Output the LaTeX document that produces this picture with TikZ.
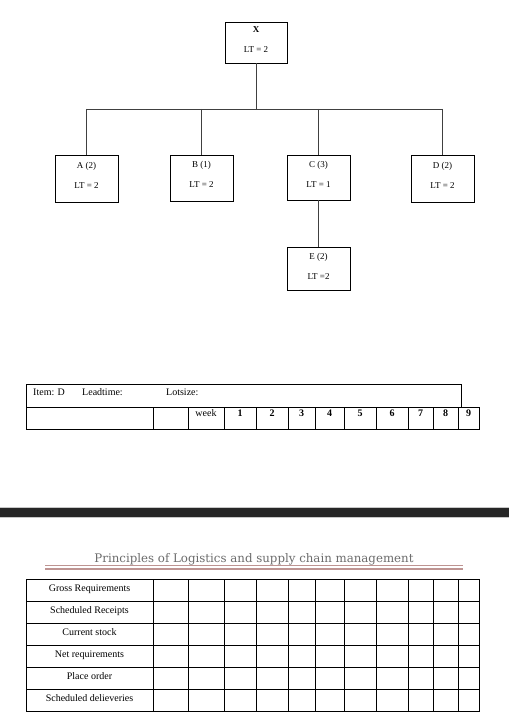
\documentclass[tikz,border=0pt]{standalone}
\usepackage{fontspec}
\setmainfont{Liberation Serif}
\newfontfamily\headfont{DejaVu Serif}
\usetikzlibrary{positioning}
\definecolor{rulered}{RGB}{190,148,146}
\definecolor{titlegray}{RGB}{108,108,108}
\definecolor{bandblack}{RGB}{38,38,38}
\newcommand{\padlow}[1]{\rule[-#1]{0pt}{#1}}

\begin{document}
\begin{tikzpicture}[x=1pt,y=1pt,
  part/.style={draw,line width=0.9pt,minimum width=63pt,minimum height=47pt,
    align=center,inner sep=0pt,font=\fontsize{9}{11}\selectfont},
  link/.style={draw=black!75,line width=0.8pt},
  cell/.style={line width=0.9pt},
  lab/.style={font=\fontsize{10}{12}\selectfont,inner sep=0pt,anchor=base}]
\useasboundingbox (0,0) rectangle (509,-719);
\fill[white] (0,0) rectangle (509,-719);

% product structure
\node[part,minimum width=62pt,minimum height=41pt] (X) at (256,-42.5) {\textbf{X}\\[9pt]LT = 2\padlow{5pt}};
\node[part] (A) at (86.5,-178.5) {A (2)\\[9pt]LT = 2\padlow{7pt}};
\node[part,minimum height=46pt] (B) at (201.5,-178) {B (1)\\[9pt]LT = 2\padlow{7pt}};
\node[part,minimum height=45pt] (C) at (318.5,-177.5) {C (3)\\[9pt]LT = 1\padlow{6pt}};
\node[part] (D) at (442.5,-178.5) {D (2)\\[9pt]LT = 2\padlow{7pt}};
\node[part,minimum height=43pt,below=47pt of C] (E) {E (2)\\[9pt]LT =2\padlow{7pt}};

\coordinate (bus) at (0,-109);
\draw[link] (X.south) -- (X.south |- bus);
\draw[link] (A.north |- bus) -- (D.north |- bus);
\foreach \k in {A,B,C,D}
  \draw[link] (\k.north |- bus) -- (\k.north);
\draw[link] (C.south) -- (E.north);

% record for item D
\draw[cell] (26,-384) rectangle (461,-407);
\node[lab,anchor=base west] (item) at (33,-395) {Item: D};
\node[lab,anchor=base west] (lead) at (82,-395) {Leadtime:};
\node[lab,anchor=base west] (lot) at (166,-395) {Lotsize:};
\foreach \xa/\xb/\t [count=\i] in {26/153/{},153/188/{},188/224/week,224/256/\textbf{1},
    256/288/\textbf{2},288/315/\textbf{3},315/344/\textbf{4},344/376/\textbf{5},
    376/408/\textbf{6},408/433/\textbf{7},433/458/\textbf{8},458/479/\textbf{9}} {
  \draw[cell] (\xa,-407) rectangle (\xb,-429);
  \node[lab] (wk\i) at ({(\xa+\xb)/2},-416.5) {\t};
}

% page break band
\fill[bandblack] (0,-507) rectangle (509,-517);
\draw[black!22,line width=0.6pt] (0,-507) -- (509,-507) (0,-517) -- (509,-517);

% running head
\draw[rulered,line width=0.7pt] (45,-565.3) -- (463,-565.3);
\draw[rulered,line width=1.8pt] (45,-568.8) -- (463,-568.8);
\node[font=\headfont\fontsize{11.8}{14}\selectfont,text=titlegray,anchor=base,inner sep=0pt] (title) at (254,-562.5)
  {Principles of Logistics and supply chain management};

% MRP table
\foreach \r [count=\j] in {Gross Requirements,Scheduled Receipts,Current stock,
    Net requirements,Place order,Scheduled delieveries} {
  \pgfmathsetmacro\yt{-579-22*(\j-1)}
  \foreach \xa/\xb in {26/153,153/188,188/224,224/256,256/288,288/315,315/344,
      344/376,376/408,408/433,433/458,458/479}
    \draw[cell] (\xa,\yt) rectangle (\xb,\yt-22);
  \node[lab] (row\j) at (89.5,\yt-12.7) {\r};
}
\end{tikzpicture}
\end{document}
